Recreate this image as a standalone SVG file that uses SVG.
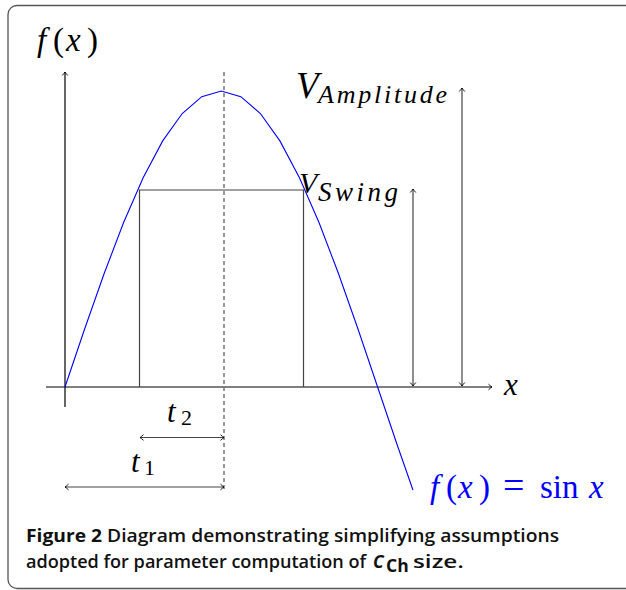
<svg xmlns="http://www.w3.org/2000/svg" width="626" height="590" viewBox="0 0 626 590">
<style>
.m{font-family:'Liberation Serif','Times New Roman',serif;fill:#000}
.i{font-style:italic}
.ax{stroke:#000;stroke-width:1.2;fill:none}
.gr{stroke:#444;stroke-width:1.2;fill:none}
.cap{font-family:'Open Sans','Noto Sans',sans-serif;font-size:17.5px;font-weight:600;fill:#111}
.b{font-weight:700}
</style>
<defs>
<marker id="tip" viewBox="-5 -4 6 8" markerWidth="6" markerHeight="8" refX="0" refY="0" orient="auto-start-reverse" markerUnits="userSpaceOnUse">
<path d="M-3.5,-2.8 Q-1,-0.6 0,0 Q-1,0.6 -3.5,2.8" fill="none" stroke="#000" stroke-width="0.9"/>
</marker>
</defs>
<rect x="8" y="5.5" width="640" height="583" rx="9" fill="#fff" stroke="#555" stroke-width="1.3"/>
<g id="connectors">
<line class="ax" x1="65" y1="407" x2="65" y2="72" marker-end="url(#tip)"/>
<line class="ax" x1="46" y1="387" x2="492" y2="387" marker-end="url(#tip)"/>
<line x1="224" y1="72" x2="224" y2="490" stroke="#777" stroke-width="1.5" stroke-dasharray="4 3"/>
<polyline class="gr" points="139.5,387 139.5,190 303.5,190 303.5,387"/>
<line class="gr" x1="462" y1="386" x2="462" y2="88" marker-start="url(#tip)" marker-end="url(#tip)"/>
<line class="gr" x1="413" y1="386" x2="413" y2="189" marker-start="url(#tip)" marker-end="url(#tip)"/>
<line class="gr" x1="140" y1="437.5" x2="224" y2="437.5" marker-start="url(#tip)" marker-end="url(#tip)"/>
<line class="gr" x1="65" y1="487" x2="224" y2="487" marker-start="url(#tip)" marker-end="url(#tip)"/>
<polyline fill="none" stroke="#0000ff" stroke-width="1.1" points="65,387 84.54,329.25 104.08,273.73 123.61,222.55 143.15,177.7 162.69,140.88 182.23,113.53 201.77,96.69 221.31,91 240.84,96.69 260.38,113.53 279.92,140.88 299.46,177.7 319,222.55 338.54,273.73 358.07,329.25 377.61,387 397.15,444.75 412.95,490"/>
</g>
<g id="label-fx" class="m" font-size="33">
<text x="37" y="51" class="i">f</text>
<text x="53" y="51">(</text>
<text x="66" y="51" class="i">x</text>
<text x="87" y="51">)</text>
</g>
<g id="label-vamp">
<text class="m i" x="296" y="98" font-size="37">V</text>
<text class="m i" x="318" y="103" font-size="26" textLength="129" lengthAdjust="spacing">Amplitude</text>
</g>
<g id="label-vswing">
<text class="m i" x="299" y="193" font-size="30">V</text>
<text class="m i" x="318" y="201" font-size="27" textLength="80" lengthAdjust="spacing">Swing</text>
</g>
<g id="label-x">
<text class="m i" x="504" y="395" font-size="31">x</text>
</g>
<g id="label-t2">
<text class="m i" x="167" y="422" font-size="31">t</text>
<text class="m" x="181" y="425" font-size="22">2</text>
</g>
<g id="label-t1">
<text class="m i" x="131" y="472" font-size="31">t</text>
<text class="m" x="144" y="475" font-size="22">1</text>
</g>
<g id="label-sin" class="m" font-size="33" style="fill:#0000ff">
<text x="430" y="498" class="i" style="fill:#0000ff">f</text>
<text x="446" y="498" style="fill:#0000ff">(</text>
<text x="458" y="498" class="i" style="fill:#0000ff">x</text>
<text x="479" y="498" style="fill:#0000ff">)</text>
<text x="503" y="498" font-size="38" style="fill:#0000ff">=</text>
<text x="540" y="498" style="fill:#0000ff">sin</text>
<text x="589" y="498" class="i" style="fill:#0000ff">x</text>
</g>
<g id="caption">
<text class="cap" x="26" y="542" textLength="533" lengthAdjust="spacingAndGlyphs"><tspan class="b">Figure 2</tspan> Diagram demonstrating simplifying assumptions</text>
<text class="cap" x="26" y="568" textLength="340" lengthAdjust="spacingAndGlyphs">adopted for parameter computation of</text>
<text class="cap b" x="373" y="568" font-style="italic">C</text>
<text class="cap b" x="386" y="572" font-size="13">Ch</text>
<text class="cap" x="413" y="568" font-size="19" textLength="51" lengthAdjust="spacingAndGlyphs">size.</text>
</g>
</svg>
